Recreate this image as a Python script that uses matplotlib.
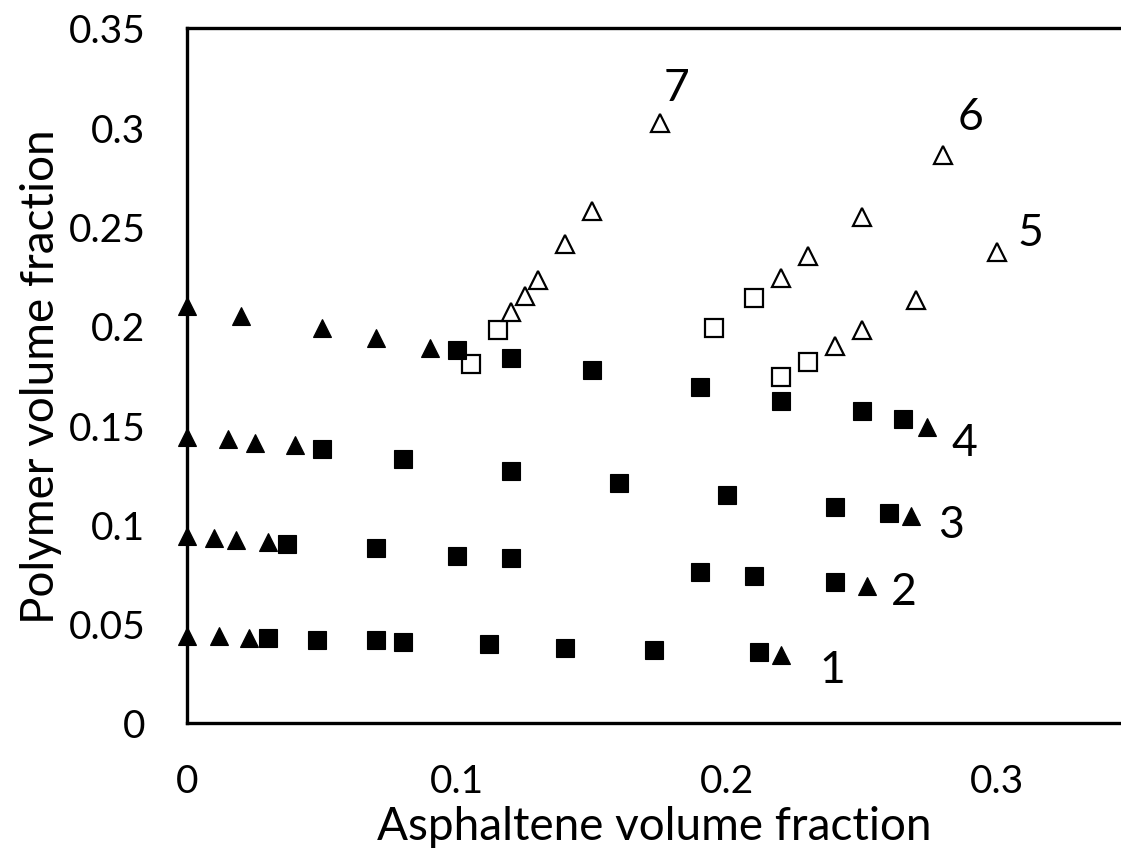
import matplotlib
matplotlib.use("Agg")
import matplotlib.pyplot as plt

plt.rcParams['font.family'] = ['Lato', 'DejaVu Sans']

# Curve 1
c1_tri_x = [0.0, 0.012, 0.023, 0.220]
c1_tri_y = [0.044, 0.044, 0.043, 0.034]
c1_sq_x = [0.030, 0.048, 0.070, 0.080, 0.112, 0.140, 0.173, 0.212]
c1_sq_y = [0.043, 0.042, 0.042, 0.041, 0.040, 0.038, 0.037, 0.036]

# Curve 2
c2_tri_x = [0.0, 0.010, 0.018, 0.030, 0.252]
c2_tri_y = [0.094, 0.093, 0.092, 0.091, 0.069]
c2_sq_x = [0.037, 0.070, 0.100, 0.120, 0.190, 0.210, 0.240]
c2_sq_y = [0.090, 0.088, 0.084, 0.083, 0.076, 0.074, 0.071]

# Curve 3
c3_tri_x = [0.0, 0.015, 0.025, 0.040, 0.268]
c3_tri_y = [0.144, 0.143, 0.141, 0.140, 0.104]
c3_sq_x = [0.050, 0.080, 0.120, 0.160, 0.200, 0.240, 0.260]
c3_sq_y = [0.138, 0.133, 0.127, 0.121, 0.115, 0.109, 0.106]

# Curve 4
c4_tri_x = [0.0, 0.020, 0.050, 0.070, 0.090, 0.274]
c4_tri_y = [0.210, 0.205, 0.199, 0.194, 0.189, 0.149]
c4_sq_x = [0.100, 0.120, 0.150, 0.190, 0.220, 0.250, 0.265]
c4_sq_y = [0.188, 0.184, 0.178, 0.169, 0.162, 0.157, 0.153]

# Curve 5
c5_osq_x = [0.220, 0.230]
c5_osq_y = [0.174, 0.182]
c5_otri_x = [0.240, 0.250, 0.270, 0.300]
c5_otri_y = [0.190, 0.198, 0.213, 0.237]

# Curve 6
c6_osq_x = [0.195, 0.210]
c6_osq_y = [0.199, 0.214]
c6_otri_x = [0.220, 0.230, 0.250, 0.280]
c6_otri_y = [0.224, 0.235, 0.255, 0.286]

# Curve 7
c7_osq_x = [0.105, 0.115]
c7_osq_y = [0.181, 0.198]
c7_otri_x = [0.120, 0.125, 0.130, 0.140, 0.150, 0.175]
c7_otri_y = [0.207, 0.215, 0.223, 0.241, 0.258, 0.302]

curve_names = ["1", "2", "3", "4", "5", "6", "7"]

x_ticks = [0.0, 0.1, 0.2, 0.3]
x_tick_labels = ["0", "0.1", "0.2", "0.3"]
y_ticks = [0.0, 0.05, 0.10, 0.15, 0.20, 0.25, 0.30, 0.35]
y_tick_labels = ["0", "0.05", "0.1", "0.15", "0.2", "0.25", "0.3", "0.35"]

W, H = 1121, 854
fig = plt.figure(figsize=(W / 100, H / 100), dpi=100)
ax = fig.add_axes([187 / W, 130 / H, (W - 187) / W, 695 / H])

open_sq = dict(marker='s', ms=13.5, mfc='white', mec='black', mew=1.6, ls='none')
open_tri = dict(marker='^', ms=13, mfc='white', mec='black', mew=1.6, ls='none')
fill_sq = dict(marker='s', ms=13.5, mfc='black', mec='black', mew=0.8, ls='none')
fill_tri = dict(marker='^', ms=12.5, mfc='black', mec='black', mew=0.8, ls='none')

# open symbols (curves 5-7)
for sx, sy, tx, ty in [(c5_osq_x, c5_osq_y, c5_otri_x, c5_otri_y),
                       (c6_osq_x, c6_osq_y, c6_otri_x, c6_otri_y),
                       (c7_osq_x, c7_osq_y, c7_otri_x, c7_otri_y)]:
    ax.plot(sx, sy, **open_sq)
    ax.plot(tx, ty, **open_tri)

# filled symbols (curves 1-4)
for tx, ty, sx, sy in [(c1_tri_x, c1_tri_y, c1_sq_x, c1_sq_y),
                       (c2_tri_x, c2_tri_y, c2_sq_x, c2_sq_y),
                       (c3_tri_x, c3_tri_y, c3_sq_x, c3_sq_y),
                       (c4_tri_x, c4_tri_y, c4_sq_x, c4_sq_y)]:
    ax.plot(sx, sy, clip_on=False, **fill_sq)
    ax.plot(tx, ty, clip_on=False, **fill_tri)

# curve numbers next to the last point of each curve
ends = [(c1_tri_x[-1], c1_tri_y[-1]), (c2_tri_x[-1], c2_tri_y[-1]),
        (c3_tri_x[-1], c3_tri_y[-1]), (c4_tri_x[-1], c4_tri_y[-1]),
        (c5_otri_x[-1], c5_otri_y[-1]), (c6_otri_x[-1], c6_otri_y[-1]),
        (c7_otri_x[-1], c7_otri_y[-1])]
offsets = [(37, -10), (26, -4), (29, -6), (27, -11), (24, 14), (20, 28), (12, 26)]
for name, (ex, ey), off in zip(curve_names, ends, offsets):
    ax.annotate(name, (ex, ey), xytext=off, textcoords='offset points',
                ha='center', va='center', fontsize=32, color='black')

ax.set_xlim(0, (W - 187) / 2700)
ax.set_ylim(0, 0.35)
ax.set_xticks(x_ticks)
ax.set_xticklabels(x_tick_labels)
ax.set_yticks(y_ticks)
ax.set_yticklabels(y_tick_labels)
ax.tick_params(axis='both', length=0, labelsize=28, colors='black')
ax.tick_params(axis='x', pad=29)
ax.tick_params(axis='y', pad=30)

for side in ['left', 'bottom', 'top']:
    ax.spines[side].set_linewidth(2.4)
    ax.spines[side].set_color('black')
ax.spines['right'].set_visible(False)

ax.set_xlabel("Asphaltene volume fraction", fontsize=33, labelpad=4)
ax.set_ylabel("Polymer volume fraction", fontsize=33, labelpad=5)

fig.savefig("out.png", dpi=100)
